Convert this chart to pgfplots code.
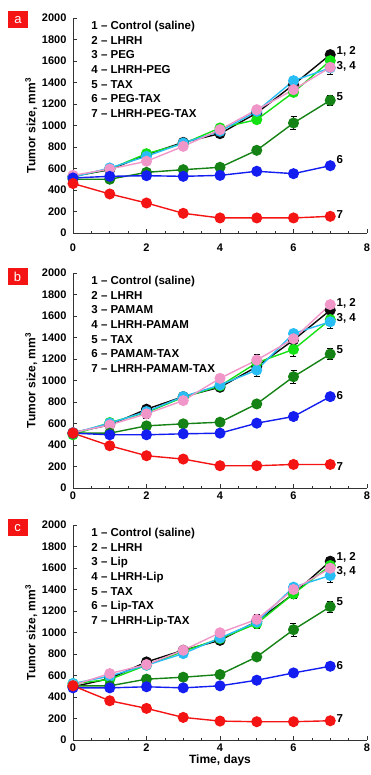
\documentclass[border=0pt]{standalone}
\usepackage{pgfplots}
\pgfplotsset{compat=1.18}
\usepackage{fontspec}
\setmainfont{Liberation Sans}
\definecolor{cBlack}{RGB}{10,10,10}
\definecolor{cLime}{RGB}{20,225,20}
\definecolor{cCyan}{RGB}{40,190,245}
\definecolor{cPink}{RGB}{240,150,200}
\definecolor{cDkGreen}{RGB}{20,130,20}
\definecolor{cBlue}{RGB}{20,30,240}
\definecolor{cRed}{RGB}{245,20,20}
\pgfplotsset{
  myax/.style={
    scale only axis, width=294pt, height=215pt,
    xmin=0, xmax=8, ymin=0, ymax=2000,
    xtick={0,2,...,8}, ytick={0,200,...,2000},
    minor x tick num=3,
    axis x line*=bottom, axis y line*=left,
    axis line style={-, line width=0.7pt, black!80},
    tick align=inside, major tick length=3.5pt, minor tick length=2pt,
    tick style={black!80, line width=0.6pt},
    clip=false,
    /pgf/number format/assume math mode=true,
    /pgf/number format/1000 sep={},
    ticklabel style={font=\fontsize{11}{13}\selectfont\bfseries},
    yticklabel style={xshift=-3pt},
    label style={font=\fontsize{12}{14}\selectfont\bfseries},
    ylabel={Tumor size, mm\textsuperscript{3}},
    ylabel style={yshift=-2pt},
    error bars/y dir=both, error bars/y explicit,
    error bars/error bar style={black, line width=0.6pt},
    error bars/error mark options={rotate=90, mark size=3pt, black, line width=0.6pt},
  },
  s/.style={line width=1.4pt, color=#1, mark=*, mark size=4.8pt, mark options={solid, fill=#1, draw=#1}},
}
\newcommand{\legendtext}[1]{%
  \node[anchor=north west, inner sep=0pt, align=left,
        font=\fontsize{11.5}{14.6}\selectfont\bfseries]
    at (rel axis cs:0.062,0.985)
    {1 -- Control (saline)\\2 -- LHRH\\3 -- #1\\4 -- LHRH-#1\\5 -- TAX\\6 -- #1-TAX\\7 -- LHRH-#1-TAX};
}
\newcommand{\serieslab}[2]{\node[anchor=west, inner sep=0pt, font=\fontsize{11.5}{13}\selectfont\bfseries] at (axis cs:7.17,#1) {#2};}
\begin{document}
\begin{tikzpicture}[x=1pt,y=1pt]
\useasboundingbox (0,0) rectangle (370,775);
% ---------- panel a ----------
\begin{axis}[myax, at={(73pt,542pt)}, anchor=south west, xticklabel style={yshift=-7pt}]
\addplot[s=cBlack] coordinates {(0,527) (1,589) (2,729) (3,843) (4,924) (5,1116) +- (0,40) (6,1380) +- (0,40) (7,1659)};
\addplot[s=cLime] coordinates {(0,527) (1,595) (2,738) (3,831) (4,977) (5,1054) (6,1308) +- (0,30) (7,1603)};
\addplot[s=cCyan] coordinates {(0,520) (1,605) (2,713) (3,837) +- (0,40) (4,946) (5,1132) (6,1417) (7,1535) +- (0,60)};
\addplot[s=cPink] coordinates {(0,536) (1,595) (2,667) +- (0,30) (3,806) (4,961) (5,1147) (6,1333) (7,1541)};
\addplot[s=cDkGreen] coordinates {(0,500) (1,500) +- (0,25) (2,564) (3,589) (4,611) (5,769) +- (0,25) (6,1023) +- (0,60) (7,1234) +- (0,50)};
\addplot[s=cBlue] coordinates {(0,512) (1,527) (2,533) (3,527) +- (0,30) (4,536) (5,574) (6,552) (7,626)};
\addplot[s=cRed] coordinates {(0,460) (1,363) (2,279) (3,183) (4,140) (5,140) (6,140) (7,155)};
\legendtext{PEG}
\serieslab{1690}{1, 2}
\serieslab{1550}{3, 4}
\serieslab{1265}{5}
\serieslab{682}{6}
\serieslab{170}{7}
\end{axis}
% ---------- panel b ----------
\begin{axis}[myax, at={(73pt,287pt)}, anchor=south west]
\addplot[s=cBlack] coordinates {(0,515) (1,587) (2,733) (3,850) (4,937) (5,1128) +- (0,50) (6,1376) (7,1654)};
\addplot[s=cLime] coordinates {(0,495) (1,609) (2,702) (3,844) (4,949) (5,1165) (6,1289) +- (0,60) (7,1567)};
\addplot[s=cCyan] coordinates {(0,510) (1,603) (2,711) (3,850) (4,958) (5,1097) +- (0,60) (6,1437) (7,1546) +- (0,60)};
\addplot[s=cPink] coordinates {(0,515) (1,587) (2,690) +- (0,40) (3,813) (4,1020) (5,1190) +- (0,50) (6,1388) (7,1706)};
\addplot[s=cDkGreen] coordinates {(0,510) (1,510) (2,578) (3,597) (4,612) (5,782) +- (0,25) (6,1035) +- (0,60) (7,1246) +- (0,50)};
\addplot[s=cBlue] coordinates {(0,510) (1,495) (2,495) (3,504) (4,510) (5,603) (6,665) (7,850)};
\addplot[s=cRed] coordinates {(0,510) (1,393) (2,300) (3,269) (4,207) (5,207) (6,219) (7,219)};
\legendtext{PAMAM}
\serieslab{1716}{1, 2}
\serieslab{1577}{3, 4}
\serieslab{1289}{5}
\serieslab{856}{6}
\serieslab{201}{7}
\end{axis}
% ---------- panel c ----------
\begin{axis}[myax, at={(73pt,35pt)}, anchor=south west, xlabel={Time, days}, xlabel style={yshift=3pt}]
\addplot[s=cBlack] coordinates {(0,495) (1,572) (2,726) (3,835) (4,927) (5,1104) (6,1360) +- (0,40) (7,1663)};
\addplot[s=cLime] coordinates {(0,525) (1,563) (2,696) (3,825) (4,943) (5,1082) (6,1360) (7,1623)};
\addplot[s=cCyan] coordinates {(0,525) (1,594) (2,696) (3,804) +- (0,30) (4,949) (5,1097) +- (0,60) (6,1422) (7,1530) +- (0,60)};
\addplot[s=cPink] coordinates {(0,510) (1,618) (2,702) (3,835) (4,998) (5,1122) +- (0,50) (6,1400) (7,1598)};
\addplot[s=cDkGreen] coordinates {(0,504) (1,504) (2,566) (3,584) (4,609) (5,773) +- (0,25) (6,1026) +- (0,60) (7,1240) +- (0,50)};
\addplot[s=cBlue] coordinates {(0,485) (1,485) (2,495) (3,485) (4,504) (5,556) (6,624) (7,686)};
\addplot[s=cRed] coordinates {(0,504) (1,365) (2,294) (3,210) (4,176) (5,170) (6,170) (7,179)};
\legendtext{Lip}
\serieslab{1700}{1, 2}
\serieslab{1567}{3, 4}
\serieslab{1283}{5}
\serieslab{696}{6}
\serieslab{201}{7}
\end{axis}
% panel letters
\node[fill=cRed, text=white, minimum width=20pt, minimum height=17pt, inner sep=0pt, font=\fontsize{13}{13}\selectfont] at (18,755) {a};
\node[fill=cRed, text=white, minimum width=20pt, minimum height=17pt, inner sep=0pt, font=\fontsize{13}{13}\selectfont] at (17.5,498.5) {b};
\node[fill=cRed, text=white, minimum width=20pt, minimum height=17pt, inner sep=0pt, font=\fontsize{13}{13}\selectfont] at (17.5,247) {c};
\end{tikzpicture}
\end{document}
